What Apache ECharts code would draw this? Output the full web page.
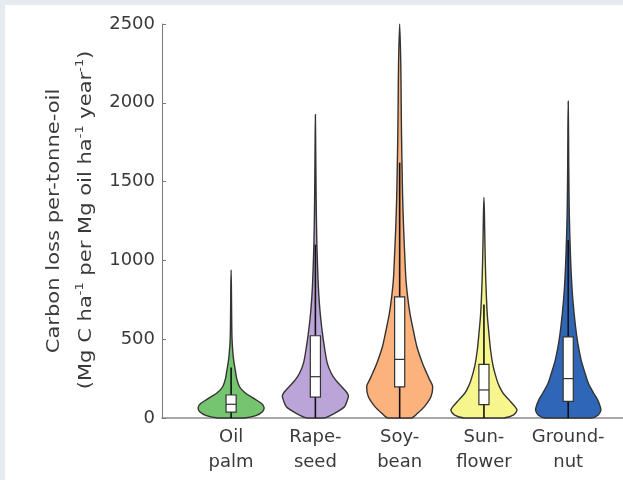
<!DOCTYPE html>
<html><head><meta charset="utf-8">
<script src="https://cdn.jsdelivr.net/npm/echarts@6/dist/echarts.min.js"></script>
<style>html,body{margin:0;padding:0;background:#ffffff;overflow:hidden}#c{width:623px;height:480px}</style>
</head><body><div id="c"></div>
<script>
// ---- data ----
const categories = ['Oil\npalm', 'Rape-\nseed', 'Soy-\nbean', 'Sun-\nflower', 'Ground-\nnut'];
const yTicks = [0, 500, 1000, 1500, 2000, 2500];

// violin profiles: [value, relative density]
const oilPalmViolin = [[0,0.40],[15,0.75],[40,0.95],[65,1.0],[90,0.93],[120,0.72],[160,0.42],[200,0.25],[250,0.17],[300,0.13],[350,0.09],[400,0.06],[500,0.028],[650,0.016],[800,0.01],[940,0]];
const rapeseedViolin = [[0,0.25],[30,0.58],[72,0.88],[115,0.97],[140,1.0],[165,0.94],[200,0.79],[242,0.61],[284,0.48],[348,0.36],[454,0.27],[560,0.2],[666,0.145],[772,0.106],[878,0.08],[1000,0.06],[1100,0.045],[1300,0.028],[1500,0.018],[1700,0.01],[1925,0]];
const soybeanViolin = [[0,0.36],[30,0.54],[72,0.75],[136,0.95],[199,1.0],[242,0.91],[284,0.82],[348,0.69],[454,0.52],[560,0.41],[666,0.31],[772,0.24],[878,0.19],[1005,0.16],[1200,0.12],[1400,0.09],[1600,0.072],[1800,0.056],[2000,0.046],[2250,0.034],[2500,0]];
const sunflowerViolin = [[0,0.6],[20,0.9],[50,1.0],[72,0.94],[115,0.76],[157,0.58],[199,0.47],[242,0.39],[327,0.28],[433,0.2],[539,0.15],[644,0.105],[751,0.078],[900,0.052],[1100,0.03],[1300,0.014],[1400,0]];
const groundnutViolin = [[0,0.7],[19,0.91],[50,0.99],[72,0.97],[115,0.89],[157,0.77],[220,0.61],[284,0.51],[369,0.39],[475,0.29],[581,0.22],[751,0.14],[899,0.095],[1069,0.062],[1300,0.032],[1600,0.016],[1800,0.01],[2010,0]];

const boxQ1 = [37, 133, 197, 85, 106];
const boxMedian = [87, 262, 372, 178, 250];
const boxQ3 = [146, 522, 768, 340, 515];
const whiskerLow = [0, 0, 0, 0, 0];
const whiskerHigh = [320, 1100, 1620, 720, 1130];
const maxValue = [940, 1925, 2500, 1400, 2010];

// ---- styles ----
const violins = [oilPalmViolin, rapeseedViolin, soybeanViolin, sunflowerViolin, groundnutViolin];
const fillColors = ['#74c470', '#bba5d8', '#fcb27c', '#f6f68c', '#2f66b7'];
const HALF_W = 0.392;   // max half width in x-axis units
const BOX_HW = 0.06;
const FONT = 'DejaVu Sans';
const TXT = '#3a3a3a';
const FRAME = '#e6ebef';

function renderViolin(params, api) {
  const i = params.dataIndex;
  const xc = api.value(0);
  const prof = violins[i];
  const left = [], right = [];
  prof.forEach(([v, d]) => {
    left.push(api.coord([xc - d * HALF_W, v]));
    right.push(api.coord([xc + d * HALF_W, v]));
  });
  const pts = left.concat(right.slice(0, -1).reverse());
  let mn = [Infinity, Infinity], mx = [-Infinity, -Infinity];
  pts.forEach(p => { mn = [Math.min(mn[0], p[0]), Math.min(mn[1], p[1])]; mx = [Math.max(mx[0], p[0]), Math.max(mx[1], p[1])]; });
  const wLo = api.coord([xc, whiskerLow[i]]);
  const wHi = api.coord([xc, whiskerHigh[i]]);
  const bTL = api.coord([xc - BOX_HW, boxQ3[i]]);
  const bBR = api.coord([xc + BOX_HW, boxQ1[i]]);
  const mL = api.coord([xc - BOX_HW, boxMedian[i]]);
  const mR = api.coord([xc + BOX_HW, boxMedian[i]]);
  return {
    type: 'group',
    children: [
      { type: 'polygon', shape: { points: pts, smooth: 0.3, smoothConstraint: [mn, mx] },
        style: { fill: fillColors[i], stroke: '#333333', lineWidth: 1.4 } },
      { type: 'line', shape: { x1: wLo[0], y1: wLo[1], x2: wHi[0], y2: wHi[1] },
        style: { stroke: '#111111', lineWidth: 1.6 } },
      { type: 'rect', shape: { x: bTL[0], y: bTL[1], width: bBR[0] - bTL[0], height: bBR[1] - bTL[1] },
        style: { fill: '#ffffff', stroke: '#333333', lineWidth: 1.2 } },
      { type: 'line', shape: { x1: mL[0], y1: mL[1], x2: mR[0], y2: mR[1] },
        style: { stroke: '#333333', lineWidth: 1.2 } }
    ]
  };
}

const chart = echarts.init(document.getElementById('c'), null, { renderer: 'canvas' });
chart.setOption({
  backgroundColor: '#ffffff',
  animation: false,
  grid: { left: 162, right: 0, top: 24, bottom: 62, outerBoundsMode: 'none', containLabel: false },
  xAxis: {
    type: 'value', min: 0.18, max: 5.65,
    axisLine: { show: true, lineStyle: { color: '#8c8c8c', width: 1.5 } },
    axisTick: { show: false },
    splitLine: { show: false },
    axisLabel: {
      customValues: categories.map((c, i) => i + 1),
      formatter: v => categories[Math.round(v) - 1],
      fontSize: 18, fontFamily: FONT, color: TXT, lineHeight: 25, margin: 7
    }
  },
  yAxis: {
    type: 'value', min: 0, max: 2500,
    axisLine: { show: true, lineStyle: { color: '#7a7a7a', width: 1 } },
    axisTick: { show: true, inside: true, length: 4, customValues: yTicks, lineStyle: { color: '#7a7a7a' } },
    splitLine: { show: false },
    axisLabel: { customValues: yTicks, formatter: v => String(v), fontSize: 18, fontFamily: FONT, color: TXT, margin: 7 }
  },
  graphic: [
    { type: 'rect', z: -10, shape: { x: 0, y: 0, width: 623, height: 5 }, style: { fill: FRAME } },
    { type: 'rect', z: -10, shape: { x: 0, y: 0, width: 5, height: 480 }, style: { fill: FRAME } },
    { type: 'text', x: 54, y: 221, rotation: Math.PI / 2, scaleX: 1.17,
      style: { text: 'Carbon loss per-tonne-oil', fontSize: 18, fontFamily: FONT, fill: TXT, align: 'center', verticalAlign: 'middle' } },
    { type: 'text', x: 86, y: 220, rotation: Math.PI / 2, scaleX: 1.17,
      style: { text: '(Mg C ha{sup|-1} per Mg oil ha{sup|-1} year{sup|-1})', fontSize: 18, fontFamily: FONT, fill: TXT,
        align: 'center', verticalAlign: 'middle', lineHeight: 22,
        rich: { sup: { fontSize: 11, fontFamily: FONT, fill: TXT, verticalAlign: 'top', lineHeight: 22 } } } }
  ],
  series: [{
    type: 'custom',
    renderItem: renderViolin,
    data: maxValue.map((m, i) => [i + 1, m]),
    clip: false,
    z: 3
  }]
});
</script></body></html>
